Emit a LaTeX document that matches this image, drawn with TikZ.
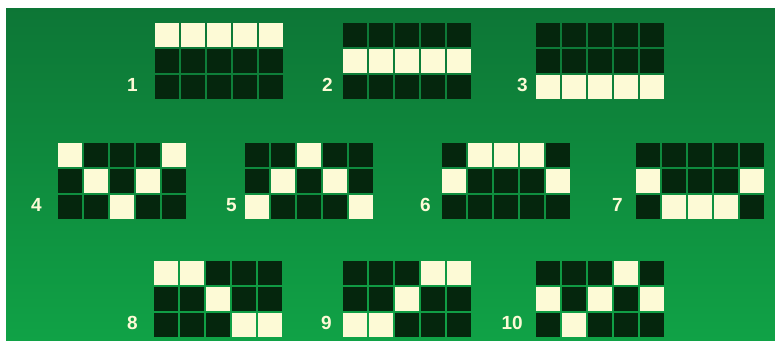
\documentclass[tikz,border=0pt]{standalone}
\usepackage{fontspec}
\newfontfamily\numfont{Liberation Sans}
\usetikzlibrary{positioning}
\definecolor{feltTop}{RGB}{13,118,54}
\definecolor{feltBot}{RGB}{16,162,70}
\definecolor{darkfill}{RGB}{5,38,13}
\definecolor{litfill}{RGB}{253,250,214}
\def\pitch{26}
\def\half{12}

% one payline: id, left x, top y, lit row per reel, label east x
\newcommand{\payline}[5]{%
  \foreach \lit [count=\col from 0] in {#4} {
    \foreach \row in {0,1,2} {
      \ifnum\row=\lit\relax \def\cellstyle{litcell}\else \def\cellstyle{darkcell}\fi
      \node (p#1-\col-\row) [\cellstyle]
        at ({#2+\half+\pitch*\col},{#3+\half+\pitch*\row}) {};
    }
  }
  \node (num#1) [numlbl] at (#5,{#3+62}) {#1};
}

\begin{document}
\begin{tikzpicture}[x=1pt, y=-1pt]

  \tikzset{
    cell/.style = {
      rectangle, draw=none, minimum size=24pt, inner sep=0pt
    },
    darkcell/.style = {
      cell, fill=darkfill
    },
    litcell/.style = {
      cell, fill=litfill
    },
    numlbl/.style = {
      anchor=east, inner sep=0pt, text=litfill,
      font=\numfont\bfseries\fontsize{19}{19}\selectfont
    }
  }

  % --- Canvas --------------------------------------------------------------
  \useasboundingbox (0,0) rectangle (775,340);
  \fill [white] (0,0) rectangle (775,340);
  \shade [top color=feltTop, bottom color=feltBot] (6,8) rectangle (775,340);

  % --- Top row: straight lines ---------------------------------------------
  \payline{1}{155}{23}{0,0,0,0,0}{138}
  \payline{2}{343}{23}{1,1,1,1,1}{333}
  \payline{3}{536}{23}{2,2,2,2,2}{528}

  % --- Middle row: V shapes ------------------------------------------------
  \payline{4}{58}{143}{0,1,2,1,0}{42}
  \payline{5}{245}{143}{2,1,0,1,2}{237}
  \payline{6}{442}{143}{1,0,0,0,1}{431}
  \payline{7}{636}{143}{1,2,2,2,1}{623}

  % --- Bottom row: steps and zigzag ----------------------------------------
  \payline{8}{154}{261}{0,0,1,2,2}{138}
  \payline{9}{343}{261}{2,2,1,0,0}{332}
  \payline{10}{536}{261}{1,2,1,0,1}{523}

\end{tikzpicture}
\end{document}
